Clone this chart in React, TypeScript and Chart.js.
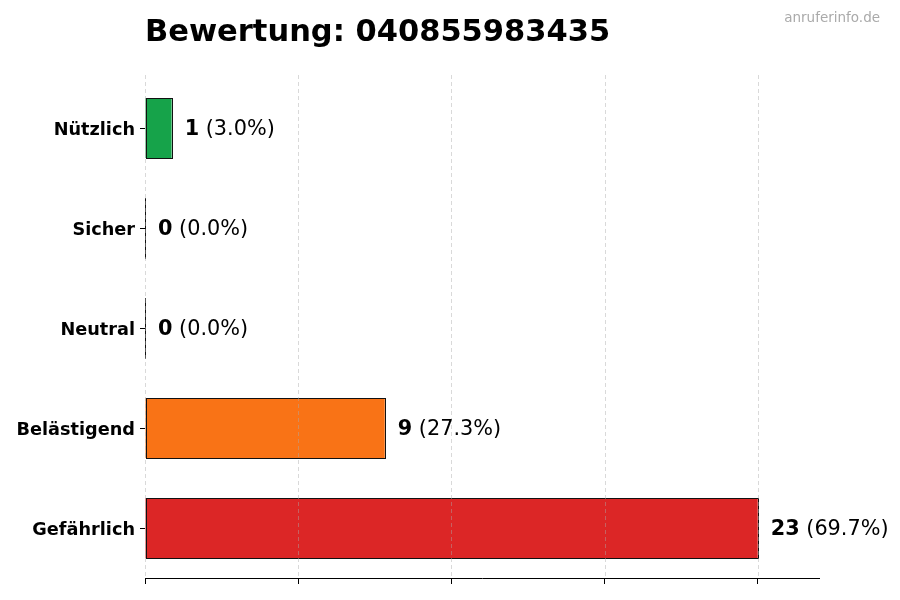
import React, { useEffect, useRef } from "react";
import { Chart, registerables } from "chart.js";

Chart.register(...registerables);

const categories = ["Nützlich", "Sicher", "Neutral", "Belästigend", "Gefährlich"];
const counts = [1, 0, 0, 9, 23];
const colors = ["#16a34a", "#16a34a", "#9ca3af", "#f97316", "#dc2626"];
const titleText = "Bewertung: 040855983435";
const watermark = "anruferinfo.de";
const FONT = "'DejaVu Sans', sans-serif";

export default function App() {
  const ref = useRef<HTMLCanvasElement | null>(null);

  useEffect(() => {
    document.body.style.margin = "0";
    const total = counts.reduce((a, b) => a + b, 0);
    const maxV = Math.max(...counts);
    const xMax = maxV * 1.1;
    const tickVals = [0, 1, 2, 3, 4].map((i) => (maxV * i) / 4);

    const overlay = {
      id: "overlay",
      afterDatasetsDraw(chart: any) {
        const ctx = chart.ctx;
        const area = chart.chartArea;
        const xs = chart.scales.x;
        const meta = chart.getDatasetMeta(0);
        ctx.save();
        // bar outlines
        ctx.strokeStyle = "#111";
        ctx.lineWidth = 1;
        meta.data.forEach((el: any) => {
          const x0 = Math.round(Math.min(el.base, el.x)) + 0.5;
          const x1 = Math.round(Math.max(el.base, el.x)) + 0.5;
          const y0 = Math.round(el.y - el.height / 2) + 0.5;
          const y1 = Math.round(el.y + el.height / 2) + 0.5;
          ctx.strokeRect(x0, y0, x1 - x0, y1 - y0);
        });
        // dashed grid over bars
        ctx.strokeStyle = "rgba(170,170,170,0.45)";
        ctx.lineWidth = 1;
        ctx.setLineDash([4, 3]);
        tickVals.forEach((v) => {
          const px = Math.round(xs.getPixelForValue(v)) + 0.5;
          ctx.beginPath();
          ctx.moveTo(px, area.top - 3);
          ctx.lineTo(px, area.bottom);
          ctx.stroke();
        });
        ctx.setLineDash([]);
        ctx.textBaseline = "middle";
        ctx.fillStyle = "#000";
        // category labels
        ctx.textAlign = "right";
        ctx.font = `bold 17.7px ${FONT}`;
        meta.data.forEach((el: any, i: number) => {
          ctx.fillText(categories[i], area.left - 10, el.y + 2);
        });
        // value labels
        ctx.textAlign = "left";
        meta.data.forEach((el: any, i: number) => {
          const v = counts[i];
          const pct = total ? ((v / total) * 100).toFixed(1) : "0.0";
          let x = el.x + 13;
          const y = el.y + 1.5;
          ctx.font = `bold 20.8px ${FONT}`;
          ctx.fillText(String(v), x, y);
          x += ctx.measureText(String(v)).width;
          ctx.font = `20.8px ${FONT}`;
          ctx.fillText(` (${pct}%)`, x, y);
        });
        // title
        ctx.font = `bold 30.5px ${FONT}`;
        ctx.textBaseline = "alphabetic";
        ctx.fillText(titleText, area.left, 41);
        // watermark
        ctx.font = `13.5px ${FONT}`;
        ctx.fillStyle = "#aaaaaa";
        ctx.textAlign = "right";
        ctx.fillText(watermark, 880, 22);
        ctx.restore();
      },
    };

    const chart = new Chart(ref.current as HTMLCanvasElement, {
      type: "bar",
      data: {
        labels: categories,
        datasets: [
          {
            data: counts,
            backgroundColor: colors,
            borderWidth: 0,
            barPercentage: 0.6,
            categoryPercentage: 1,
          },
        ],
      },
      options: {
        indexAxis: "y",
        animation: false,
        responsive: false,
        devicePixelRatio: 1,
        layout: { padding: { top: 78, right: 81, left: 0, bottom: 0 } },
        plugins: {
          legend: { display: false },
          tooltip: { enabled: false },
          title: { display: false },
        },
        scales: {
          x: {
            min: 0,
            max: xMax,
            afterBuildTicks: (scale: any) => {
              scale.ticks = tickVals.map((v) => ({ value: v }));
            },
            afterFit: (scale: any) => {
              scale.height = 22;
            },
            grid: {
              drawOnChartArea: false,
              drawTicks: true,
              tickLength: 6,
              color: "#000",
            },
            border: { display: true, color: "#000", width: 1 },
            ticks: { display: false },
          },
          y: {
            afterFit: (scale: any) => {
              scale.width = 145;
            },
            grid: {
              offset: false,
              drawOnChartArea: false,
              drawTicks: true,
              tickLength: 5,
              color: "#000",
            },
            border: { display: false },
            ticks: { display: false },
          },
        },
      },
      plugins: [overlay],
    });
    return () => chart.destroy();
  }, []);

  return (
    <div style={{ width: 900, height: 600, background: "#fff" }}>
      <canvas ref={ref} width={900} height={600} style={{ display: "block" }} />
    </div>
  );
}
